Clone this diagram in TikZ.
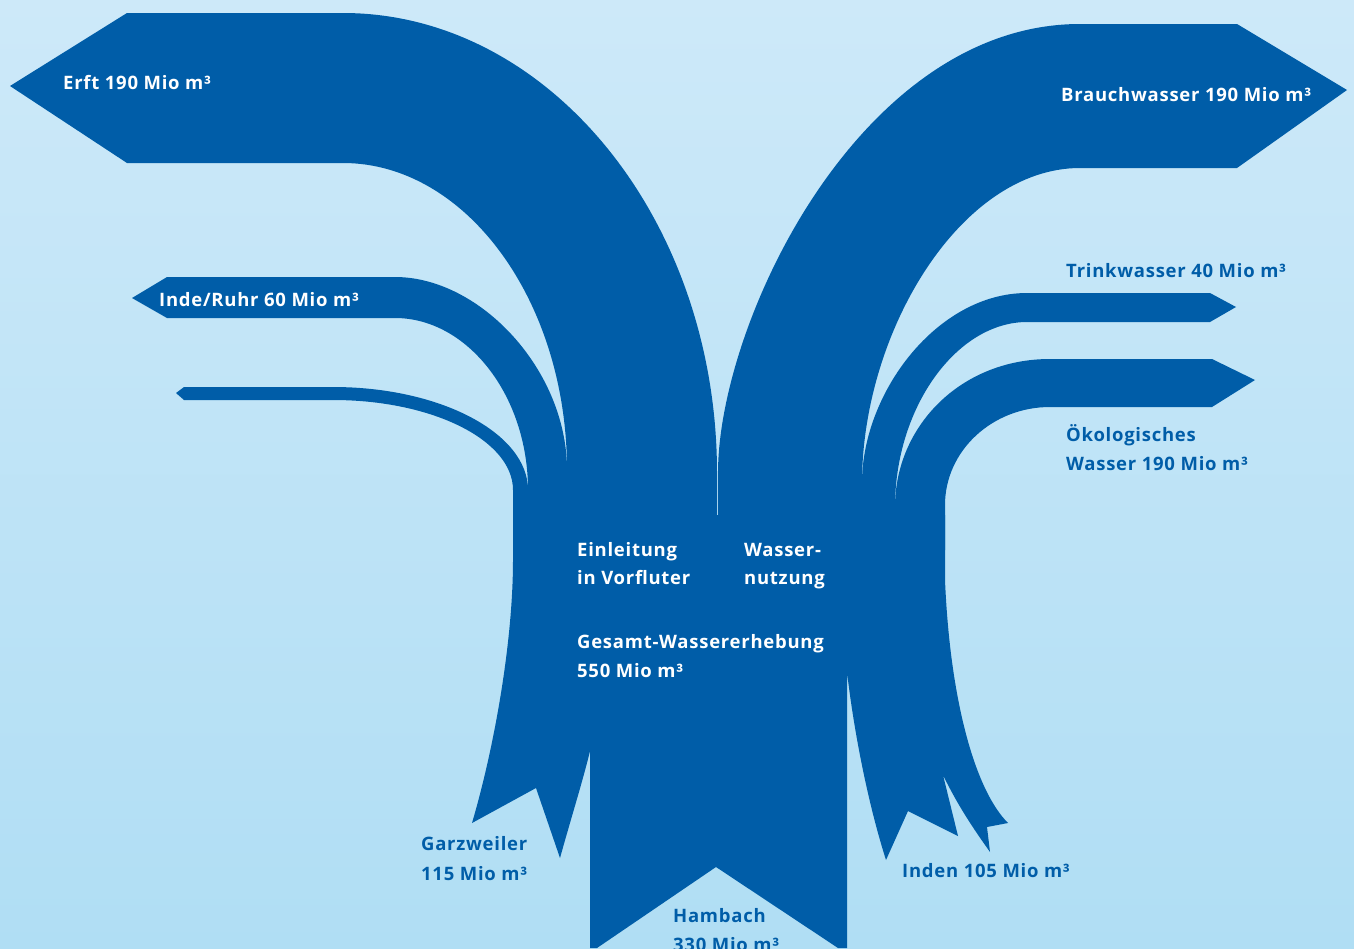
\documentclass[tikz,border=0pt]{standalone}
\usepackage{fontspec}
\setmainfont{Open Sans}[LetterSpace=4]
\definecolor{wblue}{RGB}{0,93,168}
\definecolor{bgtop}{RGB}{205,233,249}
\definecolor{bgbot}{RGB}{176,222,244}
\begin{document}
\begin{tikzpicture}[x=1pt,y=-1pt,
  band/.style={fill=wblue},
  lab/.style={font=\fontsize{18.5}{22}\selectfont\bfseries,anchor=base west,inner sep=0pt},
  wlabel/.style={lab,text=white},
  blabel/.style={lab,text=wblue}]
\useasboundingbox (0,0) rectangle (1354,948);
\shade[top color=bgtop,bottom color=bgbot] (0,0) rectangle (1354,948);
% Erft
\fill[band] (10,86) -- (127,13) -- (343,13) .. controls (549,13) and (717,220) .. (717,473)
  -- (717,530) -- (567,530) -- (567,470) .. controls (567,301) and (466,163) .. (343,163) -- (127,163) -- cycle;
% Inde/Ruhr
\fill[band] (132,298) -- (167,277) -- (395,277) .. controls (480,277) and (567,370) .. (567,470)
  -- (567,530) -- (528,530) -- (528,490) .. controls (528,395) and (467,318) .. (395,318) -- (167,318) -- cycle;
% thin band
\fill[band] (176,393) -- (184,387) -- (333,387) .. controls (440,387) and (528,433) .. (528,490)
  -- (528,530) -- (513,530) -- (513,490) .. controls (513,440) and (432,400) .. (333,400) -- (184,400) -- cycle;
% Brauchwasser
\fill[band] (1347,90) -- (1237,24) -- (1080,24) .. controls (860,24) and (718,323) .. (718,473)
  -- (718,530) -- (862,530) -- (862,483) .. controls (862,333) and (960,168) .. (1080,168) -- (1237,168) -- cycle;
% Trinkwasser
\fill[band] (1236,307) -- (1210,293) -- (1027,293) .. controls (937,293) and (862,393) .. (862,483)
  -- (862,540) -- (895,540) -- (895,507) .. controls (895,407) and (957,322) .. (1027,322) -- (1210,322) -- cycle;
% Oekologisches Wasser
\fill[band] (1255,380) -- (1212,359) -- (1050,359) .. controls (960,359) and (895,427) .. (895,507)
  -- (895,550) -- (945,550) -- (945,505) .. controls (945,451) and (992,407) .. (1050,407) -- (1212,407) -- cycle;
% trunk
\fill[band] (513,515) -- (513,560) .. controls (513,640) and (495,745) .. (472,823) -- (536,788) -- (560,858)
  .. controls (572,815) and (583,780) .. (590,751) -- (590,948) -- (597,948) -- (716,867) -- (838,948) -- (847,948)
  -- (847,672) .. controls (855,740) and (870,810) .. (886,860) -- (908,811) -- (958,836) -- (943,775)
  .. controls (960,810) and (978,835) .. (990,852) -- (987,827) -- (1008,823)
  .. controls (975,790) and (950,700) .. (945,580) -- (945,515) -- cycle;
% labels
\node[wlabel] (erft) at (63,89) {Erft 190 Mio m³};
\node[wlabel] (brauch) at (1061,101) {Brauchwasser 190 Mio m³};
\node[wlabel] (inde) at (159,306) {Inde/Ruhr 60 Mio m³};
\node[blabel] (trink) at (1066,277) {Trinkwasser 40 Mio m³};
\node[blabel] (oeko1) at (1066,441) {Ökologisches};
\node[blabel] (oeko2) at (1066,470) {Wasser 190 Mio m³};
\node[wlabel] (einl1) at (577,556) {Einleitung};
\node[wlabel] (einl2) at (577,584) {in Vorfluter};
\node[wlabel] (nutz1) at (744,556) {Wasser-};
\node[wlabel] (nutz2) at (744,584) {nutzung};
\node[wlabel] (ges1) at (577,648) {Gesamt-Wassererhebung};
\node[wlabel] (ges2) at (577,677) {550 Mio m³};
\node[blabel] (garz1) at (421,850) {Garzweiler};
\node[blabel] (garz2) at (421,880) {115 Mio m³};
\node[blabel] (inden) at (902,877) {Inden 105 Mio m³};
\node[blabel] (hamb1) at (673,922) {Hambach};
\node[blabel] (hamb2) at (673,951) {330 Mio m³};
\end{tikzpicture}
\end{document}
